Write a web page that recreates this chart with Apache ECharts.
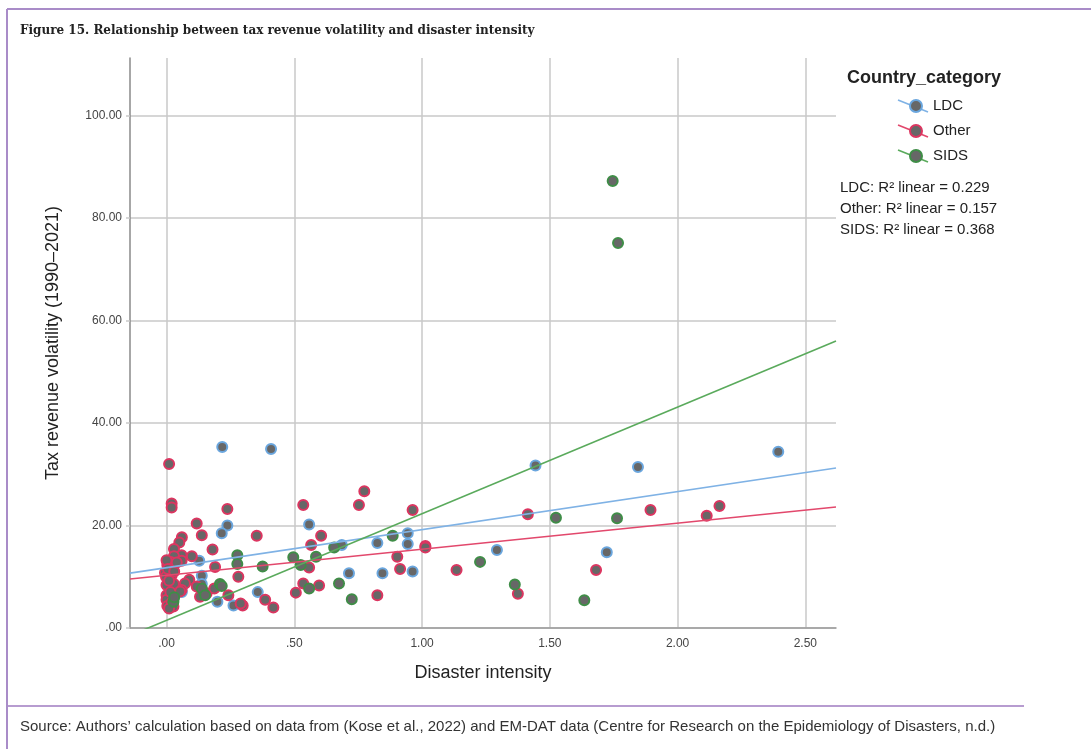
<!DOCTYPE html>
<html>
<head>
<meta charset="utf-8">
<script src="https://cdn.jsdelivr.net/npm/echarts@6/dist/echarts.min.js"></script>
<style>
html,body{margin:0;padding:0;background:#fff;}
#chart{width:1091px;height:749px;}
</style>
</head>
<body>
<div id="chart"></div>
<script>
// ---- data ----
const categories = ['LDC', 'Other', 'SIDS'];

const ldcPoints = [
  [0.218,35.3],[0.409,34.9],[1.444,31.7],[1.845,31.4],[2.394,34.4],
  [0.238,20.0],[0.216,18.5],[0.128,13.1],[0.138,10.2],[0.138,8.6],[0.199,5.1],[0.262,4.4],[0.357,7.0],
  [0.015,12.2],[0.06,7.0],
  [0.558,20.2],[0.686,16.2],[0.825,16.6],[0.944,18.5],[0.944,16.4],[0.714,10.7],[0.845,10.7],[0.963,11.0],
  [1.293,15.2],[1.723,14.8]
];

const otherPoints = [
  [0.01,32.0],[0.02,24.3],[0.02,23.5],[0.238,23.2],[0.118,20.4],[0.138,18.1],[0.06,17.7],[0.353,18.0],
  [0.05,16.7],[0.029,15.4],[0.059,14.2],[0.029,14.0],[0.099,14.0],[0.18,15.3],[0.003,12.3],[0.016,12.9],
  [0.059,13.1],[0.19,11.9],[-0.006,10.8],[-0.002,10.0],[0.02,10.3],[0.089,9.4],[0.281,10.0],[0.0,8.4],
  [0.029,8.6],[0.072,8.7],[0.118,8.1],[0.059,7.4],[0.157,6.8],[0.187,7.7],[0.242,6.4],[0.131,6.1],
  [0.0,6.4],[0.0,5.5],[0.003,4.3],[0.027,4.2],[0.298,4.4],[0.29,4.8],[0.386,5.5],[0.418,4.0],
  [0.053,7.1],[0.015,7.0],[0.01,9.2],[0.0,13.2],[0.005,11.5],[0.03,11.0],[0.04,12.8],[0.02,5.0],[0.01,3.8],
  [0.535,24.0],[0.753,24.0],[0.774,26.7],[0.963,23.0],[0.605,18.0],[0.566,16.2],[1.013,16.0],[1.013,15.7],
  [0.558,11.8],[0.903,13.9],[0.914,11.5],[1.135,11.3],[0.535,8.7],[0.597,8.3],[0.506,6.9],[0.825,6.4],
  [1.414,22.2],[1.894,23.0],[2.114,21.9],[2.164,23.8],[1.375,6.7],[1.681,11.3]
];

const sidsPoints = [
  [1.746,87.2],[1.767,75.1],
  [0.277,14.2],[0.277,12.5],[0.376,12.0],[0.138,7.7],[0.209,8.6],[0.216,8.2],[0.151,6.4],[0.027,5.1],[0.03,6.0],
  [0.496,13.8],[0.525,12.3],[0.585,13.9],[0.656,15.7],[0.885,18.0],[0.558,7.7],[0.675,8.7],[0.725,5.6],
  [1.227,12.9],[1.524,21.5],[1.763,21.4],[1.363,8.5],[1.635,5.4]
];

// linear fit lines (intercept, slope) and R² values
const fitIntercepts = [11.76, 10.29, 1.5];
const fitSlopes = [7.42, 5.08, 20.8];
const r2Values = ['0.229', '0.157', '0.368'];

const xTicks = [0, 0.5, 1, 1.5, 2, 2.5];
const yTicks = [0, 20, 40, 60, 80, 100];
const xRange = [-0.143, 2.62];
const yRange = [0, 111.2];

// ---- styling ----
const ringColors = ['#6aa6de', '#dc3560', '#3f8d47'];
const lineColors = ['#7fb2e5', '#e2486c', '#5aaa5c'];
const fillColor = '#676767';

const pointSets = [ldcPoints, otherPoints, sidsPoints];

function fmt(v) {
  return v.toFixed(2).replace(/^0\./, '.');
}

const series = [];
pointSets.forEach((pts, i) => {
  series.push({
    name: categories[i],
    type: 'scatter',
    data: pts,
    symbol: 'circle',
    symbolSize: 10,
    itemStyle: { color: fillColor, borderColor: ringColors[i], borderWidth: 2, opacity: 1 },
    z: 3,
    silent: true
  });
});
pointSets.forEach((pts, i) => {
  series.push({
    name: categories[i] + ' fit',
    type: 'line',
    data: [
      [xRange[0], fitIntercepts[i] + fitSlopes[i] * xRange[0]],
      [xRange[1], fitIntercepts[i] + fitSlopes[i] * xRange[1]]
    ],
    showSymbol: false,
    symbol: 'none',
    clip: true,
    lineStyle: { color: lineColors[i], width: 1.6 },
    z: 4,
    silent: true
  });
});

// legend drawn as graphic
const legendGraphics = [
  { type: 'text', left: 847, top: 69, style: { text: 'Country_category', font: 'bold 18px "Liberation Sans", Arial, sans-serif', fill: '#222' } }
];
const legendY = [106, 131, 156];
categories.forEach((c, i) => {
  const cy = legendY[i];
  legendGraphics.push({ type: 'line', shape: { x1: 898, y1: cy - 6, x2: 928, y2: cy + 6 }, style: { stroke: lineColors[i], lineWidth: 1.6 } });
  legendGraphics.push({ type: 'circle', shape: { cx: 916, cy: cy, r: 6 }, style: { fill: fillColor, stroke: ringColors[i], lineWidth: 2 } });
  legendGraphics.push({ type: 'text', x: 933, y: cy, style: { text: c, font: '15px "Liberation Sans", Arial, sans-serif', fill: '#222', verticalAlign: 'middle' } });
});
const r2Y = [188, 209, 230];
categories.forEach((c, i) => {
  legendGraphics.push({ type: 'text', x: 840, y: r2Y[i], style: { text: c + ': R\u00B2 linear = ' + r2Values[i], font: '15px "Liberation Sans", Arial, sans-serif', fill: '#222', verticalAlign: 'middle' } });
});

const frame = [
  { type: 'line', shape: { x1: 7, y1: 9, x2: 1091, y2: 9 }, style: { stroke: '#a98cc8', lineWidth: 2 } },
  { type: 'line', shape: { x1: 7, y1: 9, x2: 7, y2: 749 }, style: { stroke: '#a98cc8', lineWidth: 2 } },
  { type: 'line', shape: { x1: 8, y1: 706, x2: 1024, y2: 706 }, style: { stroke: '#b79cd0', lineWidth: 2 } },
  { type: 'text', x: 20, y: 31, style: { text: 'Figure 15. Relationship between tax revenue volatility and disaster intensity', font: 'bold 12px "DejaVu Serif", "Liberation Serif", serif', fill: '#222', verticalAlign: 'middle' } },
  { type: 'text', x: 20, y: 727, style: { text: 'Source: Authors\u2019 calculation based on data from (Kose et al., 2022) and EM-DAT data (Centre for Research on the Epidemiology of Disasters, n.d.)', font: '15px "Liberation Sans", Arial, sans-serif', fill: '#333', verticalAlign: 'middle' } }
];

const chart = echarts.init(document.getElementById('chart'), null, { renderer: 'canvas' });
chart.setOption({
  animation: false,
  backgroundColor: '#fff',
  grid: { left: 130, right: 255, top: 58, bottom: 121, containLabel: false },
  xAxis: {
    type: 'value',
    min: xRange[0], max: xRange[1],
    name: 'Disaster intensity',
    nameLocation: 'middle',
    nameGap: 36,
    nameTextStyle: { fontFamily: '"Liberation Sans", Arial, sans-serif', fontSize: 18, color: '#222' },
    axisLine: { show: true, onZero: false, lineStyle: { color: '#9a9a9a', width: 1.5 } },
    axisTick: { show: false, customValues: xTicks },
    axisLabel: { customValues: xTicks, formatter: fmt, fontFamily: '"Liberation Sans", Arial, sans-serif', fontSize: 12, color: '#444', margin: 10 },
    splitLine: { show: true, lineStyle: { color: '#c9c9c9', width: 1.5 } }
  },
  yAxis: {
    type: 'value',
    min: yRange[0], max: yRange[1],
    name: 'Tax revenue volatility (1990\u20132021)',
    nameLocation: 'middle',
    nameGap: 68,
    nameRotate: 90,
    nameTextStyle: { fontFamily: '"Liberation Sans", Arial, sans-serif', fontSize: 18, color: '#222' },
    axisLine: { show: true, onZero: false, lineStyle: { color: '#8a8a8a', width: 1.5 } },
    axisTick: { show: true, inside: false, length: 4, customValues: yTicks, lineStyle: { color: '#c9c9c9', width: 1.5 } },
    axisLabel: { customValues: yTicks, formatter: fmt, fontFamily: '"Liberation Sans", Arial, sans-serif', fontSize: 12, color: '#444', margin: 8 },
    splitLine: { show: true, lineStyle: { color: '#c9c9c9', width: 1.5 } }
  },
  series: series,
  graphic: frame.concat(legendGraphics)
});
</script>
</body>
</html>
